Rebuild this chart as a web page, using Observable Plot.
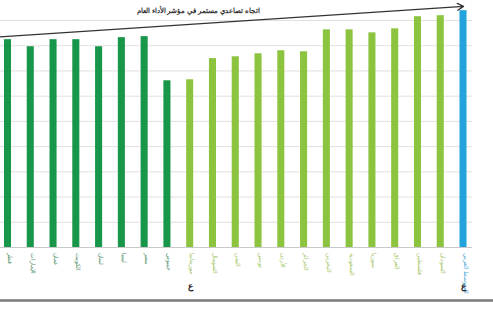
<!DOCTYPE html>
<html><head><meta charset="utf-8">
<script src="https://cdn.jsdelivr.net/npm/d3@7"></script>
<script src="https://cdn.jsdelivr.net/npm/@observablehq/plot@0.6"></script>
<style>body{margin:0;background:#fff;font-family:"Noto Sans",sans-serif}</style>
</head><body><div id="chart"></div>
<script>
const categories = ["قطر","الإمارات","عمان","الكويت","لبنان","ليبيا","مصر","جيبوتي",
  "موريتانيا","الصومال","اليمن","تونس","الأردن","الجزائر","البحرين","السعودية","سوريا","العراق","فلسطين","السودان",
  "المتوسط العربي"];
const values = [82.4,79.6,82.4,82.4,79.6,83.2,83.6,66.1,
  66.5,74.9,75.6,76.8,78.0,77.6,86.3,86.3,85.1,86.7,91.5,91.9,
  93.9];
const groups = ["a","a","a","a","a","a","a","a",
  "b","b","b","b","b","b","b","b","b","b","b","b","c"];
const groupColors = {a:"#18964a", b:"#8cc43f", c:"#23a3dc"};
const labelColors = {a:"#4f8f68", b:"#9fc45e", c:"#4aa6d2"};
const trendText = "اتجاه تصاعدي مستمر في مؤشر الأداء العام";
const trendFrom = 83.7, trendTo = 95.6;
const markerText = "ع";
const markerIdx = [8, 20];

const data = categories.map((c,i)=>({c, v: values[i], g: groups[i]}));

const chart = Plot.plot({
  width: 493, height: 319,
  marginLeft: 0, marginRight: 21, marginTop: 20, marginBottom: 72,
  x: {domain: categories, range: [-3.9, 474.4], paddingInner: 0.69, paddingOuter: 0.345, round: false, axis: null},
  y: {domain: [0, 90], axis: null},
  style: {fontFamily: "Noto Sans, sans-serif", background: "#fff"},
  marks: [
    Plot.ruleY(d3.range(10, 91, 10), {stroke: "#e6dede", strokeWidth: 1}),
    Plot.ruleY([0], {stroke: "#c9c9c9", strokeWidth: 1}),
    Plot.barY(data, {x: "c", y: "v", fill: d => groupColors[d.g]}),
    Plot.text(data, {x: "c", text: "c", frameAnchor: "bottom", dy: 5, rotate: 90, textAnchor: "start",
      fill: d => labelColors[d.g], fontSize: 6}),
    Plot.text(markerIdx, {x: i => categories[i], text: () => markerText, frameAnchor: "bottom", dy: 41,
      fontSize: 9, fontWeight: "bold", fill: "#222"}),
    Plot.ruleY([0], {dy: 53, stroke: "#7a7a7a", strokeWidth: 2.5, insetRight: -21}),
    Plot.arrow([0], {x1: () => categories[0], x2: () => categories[categories.length-1],
      y1: () => trendFrom, y2: () => trendTo, stroke: "#333", strokeWidth: 1.3, headLength: 8, insetStart: -8, insetEnd: 0}),
    Plot.text([0], {x: () => categories[8], y: () => 94, dx: 8, text: () => trendText, fontSize: 7, fontWeight: "bold", fill: "#333"})
  ]
});
document.getElementById("chart").appendChild(chart);
</script></body></html>
